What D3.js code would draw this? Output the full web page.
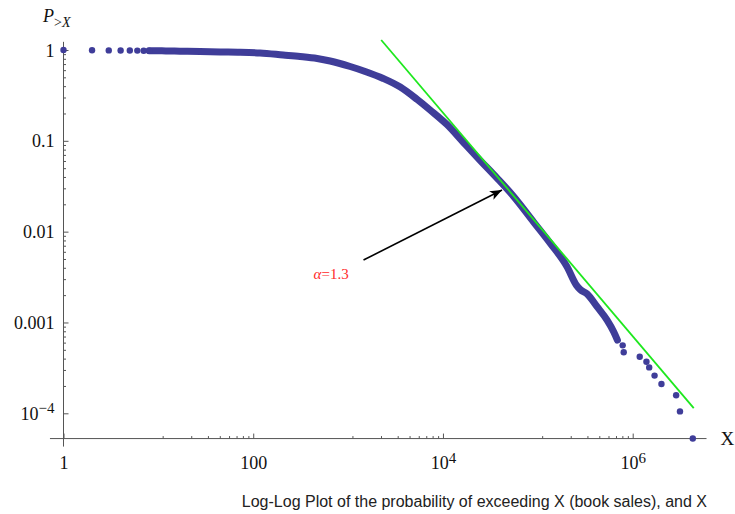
<!DOCTYPE html>
<html>
<head>
<meta charset="utf-8">
<script src="https://cdn.jsdelivr.net/npm/d3@7"></script>
<style>
  body { margin: 0; background: #fff; }
  svg text { font-family: "Liberation Serif", "Times New Roman", serif; }
</style>
</head>
<body>
<div id="chart"></div>
<script>
const headX = [1, 2, 3, 4, 5, 6, 7, 8];
const headP = [1, 0.993, 0.99, 0.988, 0.986, 0.985, 0.983, 0.982];

const bandX = [8, 10, 12, 16.9, 27.5, 44.8, 72.8, 118, 207, 312, 472, 647, 1052, 1514, 2344, 3548, 5358,
  7345, 11020, 16480, 24760, 37150, 55590, 90360, 135500, 203200, 254700, 280600, 330300,
  421000, 537000, 630000, 690000];
const bandP = [0.982, 0.98, 0.978, 0.97, 0.963, 0.953, 0.946, 0.927, 0.881, 0.848, 0.806, 0.757, 0.658, 0.58,
  0.486, 0.391, 0.285, 0.218, 0.151, 0.0958, 0.0607, 0.0389, 0.0244, 0.01276, 0.00743, 0.00411,
  0.00258, 0.0023, 0.00206, 0.00149, 0.00106, 7.9e-4, 6.4e-4];

const tailX = [784000, 804000, 1186000, 1396000, 1493000, 1700000, 2010000, 2870000, 3150000, 4300000];
const tailP = [5.6e-4, 4.7e-4, 4.2e-4, 3.7e-4, 3.2e-4, 2.6e-4, 2.1e-4, 1.58e-4, 1.05e-4, 5.27e-5];

// fitted power law, alpha = 1.3
const fitX = [2234, 4.4e6];
const fitP = [1.289, 1.14e-4];

const arrowX = [1454, 41900];
const arrowP = [0.00487, 0.0287];
const labelX = 663;
const labelP = 0.003;

const yTicks = [1, 0.1, 0.01, 0.001, 1e-4];
const yTickLabels = ["1", "0.1", "0.01", "0.001", "10^−4"];
const yMinor = [0.9, 0.8, 0.7, 0.6, 0.5, 0.4, 0.3, 0.2,
  0.09, 0.08, 0.07, 0.06, 0.05, 0.04, 0.03, 0.02,
  0.009, 0.008, 0.007, 0.006, 0.005, 0.004, 0.003, 0.002,
  9e-4, 8e-4, 7e-4, 6e-4, 5e-4, 4e-4, 3e-4, 2e-4];
const xTicks = [1, 100, 1e4, 1e6];
const xTickLabels = ["1", "100", "10^4", "10^6"];
const xMinor = [11.1, 22.2, 33.3, 44.4, 55.6, 66.7, 77.8, 88.9,
  1111, 2222, 3333, 4444, 5556, 6667, 7778, 8889,
  111100, 222200, 333300, 444400, 555600, 666700, 777800, 888900];

const plotRangeX = [0.72, 6e6];
const plotRangeY = [4.3e-5, 1.23];
const axesOrigin = [1, 5.27e-5];

const caption = "Log-Log Plot of the probability of exceeding X (book sales), and X";

const width = 735;
const height = 514;
const pointColor = "#3f3d99";
const axisColor = "#555";

const x = d3.scaleLog().domain([1, 1e6]).range([63.5, 632.7]);
const y = d3.scaleLog().domain([1e-4, 1]).range([413.3, 50]);

const svg = d3
  .select("#chart")
  .append("svg")
  .attr("width", width)
  .attr("height", height)
  .attr("viewBox", [0, 0, width, height]);

// label with optional superscript, written as base^exp
function setLabel(text, label) {
  const [base, exp] = label.split("^");
  text.text(null);
  text.append("tspan").text(base);
  if (exp) {
    text.append("tspan").attr("dy", "-0.45em").style("font-size", "15px").text(exp);
  }
}

// axes
const yAxis = svg
  .append("g")
  .attr("transform", `translate(${x(axesOrigin[0])},0)`)
  .call(
    d3.axisLeft(y)
      .tickValues(yTicks)
      .tickSizeInner(-5)
      .tickSizeOuter(0)
      .tickPadding(9)
      .tickFormat((d, i) => yTickLabels[i]),
  )
  .call((axis) => axis.select(".domain").remove());

yAxis.selectAll(".tick line").attr("stroke", axisColor);
yAxis
  .selectAll(".tick text")
  .style("font-size", "18px")
  .attr("fill", "#111")
  .attr("dy", "0.34em")
  .each(function (d, i) { setLabel(d3.select(this), yTickLabels[i]); });

svg
  .append("g")
  .attr("transform", `translate(${x(axesOrigin[0])},0)`)
  .call(d3.axisLeft(y).tickValues(yMinor).tickSizeInner(-2.5).tickSizeOuter(0).tickFormat(""))
  .call((axis) => axis.select(".domain").remove())
  .selectAll(".tick line")
  .attr("stroke", axisColor);

const xAxis = svg
  .append("g")
  .attr("transform", `translate(0,${y(axesOrigin[1])})`)
  .call(
    d3.axisBottom(x)
      .tickValues(xTicks)
      .tickSizeInner(-5)
      .tickSizeOuter(0)
      .tickPadding(18)
      .tickFormat((d, i) => xTickLabels[i]),
  )
  .call((axis) => axis.select(".domain").remove());

xAxis.selectAll(".tick line").attr("stroke", axisColor);
xAxis
  .selectAll(".tick text")
  .style("font-size", "18px")
  .attr("fill", "#111")
  .each(function (d, i) { setLabel(d3.select(this), xTickLabels[i]); });

svg
  .append("g")
  .attr("transform", `translate(0,${y(axesOrigin[1])})`)
  .call(d3.axisBottom(x).tickValues(xMinor).tickSizeInner(-2.5).tickSizeOuter(0).tickFormat(""))
  .call((axis) => axis.select(".domain").remove())
  .selectAll(".tick line")
  .attr("stroke", axisColor);

svg
  .append("line")
  .attr("x1", x(axesOrigin[0]))
  .attr("x2", x(axesOrigin[0]))
  .attr("y1", y(plotRangeY[0]))
  .attr("y2", y(plotRangeY[1]))
  .attr("stroke", axisColor);

svg
  .append("line")
  .attr("x1", x(plotRangeX[0]))
  .attr("x2", x(plotRangeX[1]))
  .attr("y1", y(axesOrigin[1]))
  .attr("y2", y(axesOrigin[1]))
  .attr("stroke", axisColor);

// axis names
const pLabel = svg.append("text").attr("x", 43).attr("y", 22).attr("fill", "#111");
pLabel.append("tspan").style("font-size", "18px").style("font-style", "italic").text("P");
pLabel.append("tspan").attr("dy", 5).style("font-size", "14px").text(">");
pLabel.append("tspan").style("font-size", "14px").style("font-style", "italic").text("X");

svg
  .append("text")
  .attr("x", x(plotRangeX[1]) + 14)
  .attr("y", y(axesOrigin[1]) + 6)
  .style("font-size", "19px")
  .attr("fill", "#111")
  .text("X");

// data points
const band = bandX.map((d, i) => [d, bandP[i]]);
svg
  .append("path")
  .datum(band)
  .attr("fill", "none")
  .attr("stroke", pointColor)
  .attr("stroke-width", 7)
  .attr("stroke-linecap", "round")
  .attr("stroke-linejoin", "round")
  .attr("d", d3.line().x((d) => x(d[0])).y((d) => y(d[1])).curve(d3.curveMonotoneX));

const dots = headX.map((d, i) => [d, headP[i]]).concat(tailX.map((d, i) => [d, tailP[i]]));
svg
  .append("g")
  .selectAll("circle")
  .data(dots)
  .join("circle")
  .attr("cx", (d) => x(d[0]))
  .attr("cy", (d) => y(d[1]))
  .attr("r", 3.2)
  .attr("fill", pointColor);

// power-law fit
svg
  .append("line")
  .attr("x1", x(fitX[0]))
  .attr("y1", y(fitP[0]))
  .attr("x2", x(fitX[1]))
  .attr("y2", y(fitP[1]))
  .attr("stroke", "#1ee81e")
  .attr("stroke-width", 1.8);

// annotation
svg
  .append("defs")
  .append("marker")
  .attr("id", "head")
  .attr("viewBox", "0 0 10 10")
  .attr("refX", 10)
  .attr("refY", 5)
  .attr("markerWidth", 12)
  .attr("markerHeight", 12)
  .attr("markerUnits", "userSpaceOnUse")
  .attr("orient", "auto")
  .append("path")
  .attr("d", "M0,1 L10,5 L0,9 L2.5,5 Z")
  .attr("fill", "#000");

svg
  .append("line")
  .attr("x1", x(arrowX[0]))
  .attr("y1", y(arrowP[0]))
  .attr("x2", x(arrowX[1]))
  .attr("y2", y(arrowP[1]))
  .attr("stroke", "#000")
  .attr("stroke-width", 1.6)
  .attr("marker-end", "url(#head)");

const alpha = svg
  .append("text")
  .attr("x", x(labelX))
  .attr("y", y(labelP))
  .attr("text-anchor", "middle")
  .attr("fill", "#ff2a2a")
  .style("font-size", "15px");
alpha.append("tspan").style("font-style", "italic").text("α");
alpha.append("tspan").text("=1.3");

svg
  .append("text")
  .attr("x", 707)
  .attr("y", 507)
  .attr("text-anchor", "end")
  .style("font-family", "'Liberation Sans', Arial, sans-serif")
  .style("font-size", "16px")
  .attr("fill", "#222")
  .text(caption);
</script>
</body>
</html>
